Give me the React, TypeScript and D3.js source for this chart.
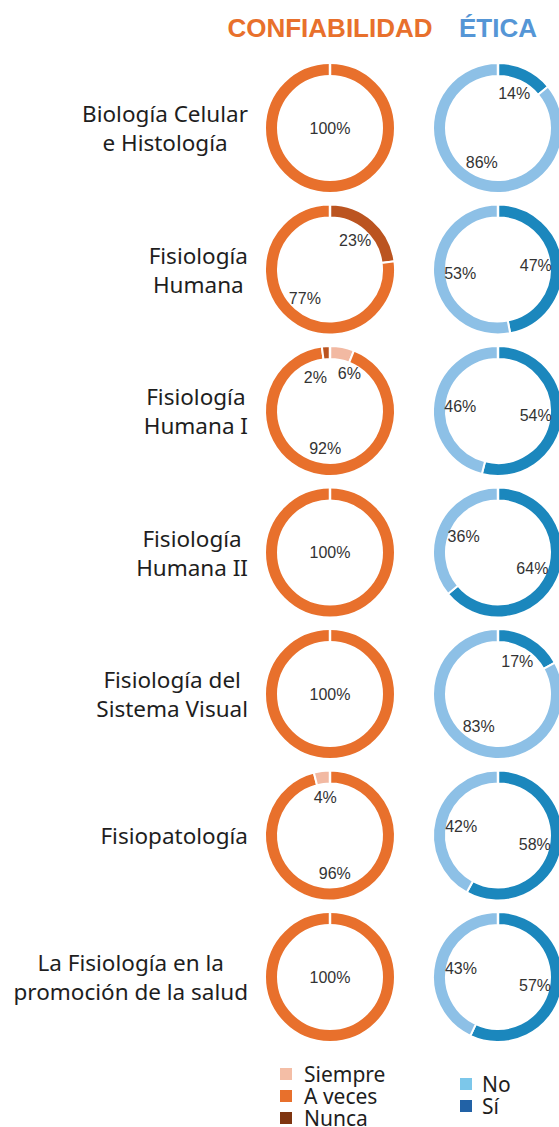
import React, { useEffect, useRef } from 'react';
import * as d3 from 'd3';

// subjects (row labels), one array of lines per row
const subjects = [
    ["Biología Celular", "e Histología"],
    ["Fisiología", "Humana"],
    ["Fisiología", "Humana I"],
    ["Fisiología", "Humana II"],
    ["Fisiología del", "Sistema Visual"],
    ["Fisiopatología"],
    ["La Fisiología en la", "promoción de la salud"],
];

// CONFIABILIDAD (%)
const confCategories = ["Siempre", "A veces", "Nunca"];
const siempre = [0, 0, 6, 0, 0, 4, 0];
const aVeces = [100, 77, 92, 100, 100, 96, 100];
const nunca = [0, 23, 2, 0, 0, 0, 0];
// clockwise order of slices, as drawn in each chart
const confOrder = [
    ["A veces"],
    ["Nunca", "A veces"],
    ["Siempre", "A veces", "Nunca"],
    ["A veces"],
    ["A veces"],
    ["A veces", "Siempre"],
    ["A veces"],
];

// ÉTICA (%)
const ethCategories = ["No", "Sí"];
const si = [14, 47, 54, 64, 17, 58, 57];
const no = [86, 53, 46, 36, 83, 42, 43];

const confColors = { "Siempre": "#f2b9a2", "A veces": "#e8702c", "Nunca": "#bb5420" };
const confLegendColors = { "Siempre": "#f4bea6", "A veces": "#e8702c", "Nunca": "#7f3510" };
const ethColors = { "No": "#8dc0e6", "Sí": "#1b87bd" };
const ethLegendColors = { "No": "#7cc7ea", "Sí": "#2262a6" };

const W = 559;
const H = 1127;

const App = () => {
    const svgRef = useRef<SVGSVGElement>(null);

    useEffect(() => {
        const svg = d3.select(svgRef.current);
        svg.selectAll("*").remove();

        const font = "'Noto Sans', sans-serif";
        const numFont = "'Liberation Sans', Arial, sans-serif";
        const confX = 330;
        const ethX = 498;
        const outerR = 65;
        const innerR = 52;
        const labelR = 38;

        const y = d3.scalePoint<number>()
            .domain(d3.range(subjects.length))
            .range([128, 977]);

        const arc = d3.arc<any>().innerRadius(innerR).outerRadius(outerR);
        const pie = d3.pie<any>().sort(null).value((d) => d.value);

        // headers
        svg.append("text")
            .attr("x", confX).attr("y", 37)
            .attr("text-anchor", "middle")
            .style("font-family", numFont)
            .style("font-weight", "bold")
            .style("font-size", "26px")
            .attr("fill", "#e8702c")
            .text("CONFIABILIDAD");

        svg.append("text")
            .attr("x", ethX).attr("y", 37)
            .attr("text-anchor", "middle")
            .style("font-family", numFont)
            .style("font-weight", "bold")
            .style("font-size", "26px")
            .attr("fill", "#5596d6")
            .text("ÉTICA");

        const drawDonut = (cx: number, cy: number, slices: { key: string, value: number }[], colors: any) => {
            const g = svg.append("g").attr("transform", `translate(${cx},${cy})`);
            const arcs = pie(slices.filter((d) => d.value > 0));

            g.selectAll("path")
                .data(arcs)
                .enter()
                .append("path")
                .attr("d", arc)
                .attr("fill", (d) => colors[d.data.key])
                .attr("stroke", "#fff")
                .attr("stroke-width", 2);

            // slice border at the start (visible on full rings too)
            g.append("line")
                .attr("x1", 0).attr("y1", -innerR + 1)
                .attr("x2", 0).attr("y2", -outerR - 1)
                .attr("stroke", "#fff")
                .attr("stroke-width", 2.5);

            // label positions at the slice middle, nudged apart when they collide
            const pos = arcs.map((d) => {
                if (arcs.length === 1) return [0, 0];
                const a = (d.startAngle + d.endAngle) / 2;
                return [labelR * Math.sin(a), -labelR * Math.cos(a)];
            });
            for (let a = 0; a < pos.length; a++) {
                for (let b = a + 1; b < pos.length; b++) {
                    const dx = pos[b][0] - pos[a][0];
                    const dy = pos[b][1] - pos[a][1];
                    if (Math.abs(dx) < 34 && Math.abs(dy) < 16) {
                        const push = (34 - Math.abs(dx)) / 2;
                        const s = dx >= 0 ? 1 : -1;
                        pos[a][0] -= s * push;
                        pos[b][0] += s * push;
                        pos[b][1] += 4;
                    }
                }
            }

            g.selectAll("text")
                .data(arcs)
                .enter()
                .append("text")
                .attr("transform", (d, i) => `translate(${pos[i][0]},${pos[i][1]})`)
                .attr("text-anchor", "middle")
                .attr("dominant-baseline", "central")
                .style("font-family", numFont)
                .style("font-size", "16px")
                .attr("fill", "#333")
                .text((d) => `${d.data.value}%`);
        };

        subjects.forEach((lines, i) => {
            const cy = y(i) as number;

            // row label: block right-aligned, lines centred on each other
            const lineH = 29;
            const tg = svg.append("g");
            const texts = lines.map((line, j) =>
                tg.append("text")
                    .attr("y", cy + (j - (lines.length - 1) / 2) * lineH)
                    .attr("text-anchor", "middle")
                    .attr("dominant-baseline", "central")
                    .style("font-family", font)
                    .style("font-size", "22.5px")
                    .attr("fill", "#1e1e1e")
                    .text(line)
            );
            const maxW = d3.max(texts, (t) => (t.node() as SVGTextElement).getComputedTextLength()) || 0;
            texts.forEach((t) => t.attr("x", 248 - maxW / 2));

            const confVals: any = { "Siempre": siempre[i], "A veces": aVeces[i], "Nunca": nunca[i] };
            drawDonut(confX, cy, confOrder[i].map((k) => ({ key: k, value: confVals[k] })), confColors);

            drawDonut(ethX, cy, [{ key: "Sí", value: si[i] }, { key: "No", value: no[i] }], ethColors);
        });

        // legends
        const confLegend = svg.append("g").attr("transform", "translate(280,1074)");
        confCategories.forEach((c, i) => {
            const row = confLegend.append("g").attr("transform", `translate(0,${i * 22})`);
            row.append("rect").attr("x", 0).attr("y", -6).attr("width", 12).attr("height", 12)
                .attr("fill", (confLegendColors as any)[c]);
            row.append("text").attr("x", 24).attr("y", 0)
                .attr("dominant-baseline", "central")
                .style("font-family", font)
                .style("font-size", "21px")
                .attr("fill", "#1e1e1e")
                .text(c);
        });

        const ethLegend = svg.append("g").attr("transform", "translate(460,1084)");
        ethCategories.forEach((c, i) => {
            const row = ethLegend.append("g").attr("transform", `translate(0,${i * 22})`);
            row.append("rect").attr("x", 0).attr("y", -6).attr("width", 12).attr("height", 12)
                .attr("fill", (ethLegendColors as any)[c]);
            row.append("text").attr("x", 22).attr("y", 0)
                .attr("dominant-baseline", "central")
                .style("font-family", font)
                .style("font-size", "21px")
                .attr("fill", "#1e1e1e")
                .text(c);
        });
    }, []);

    return (
        <svg
            ref={svgRef}
            width={W}
            height={H}
            style={{ position: "absolute", left: 0, top: 0, background: "#fff" }}
        ></svg>
    );
};

export default App;
